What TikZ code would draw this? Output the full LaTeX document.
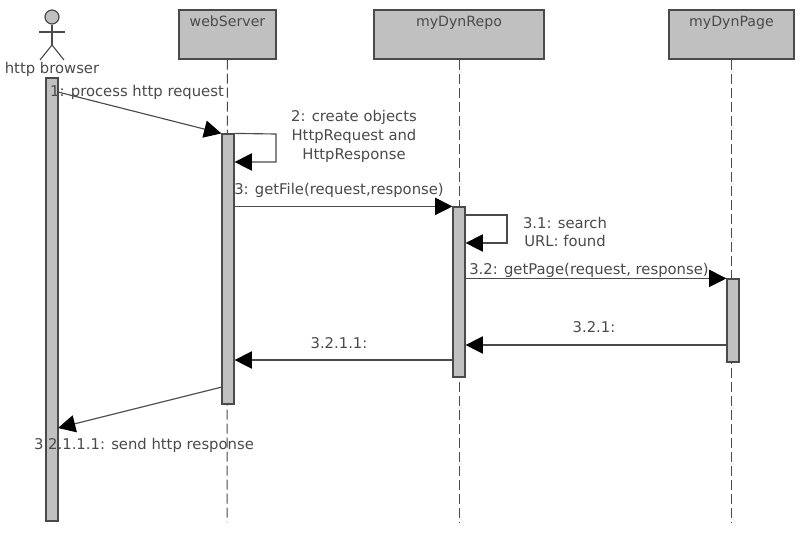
\documentclass[tikz,border=0pt]{standalone}
\usepackage{fontspec}
\setmainfont{DejaVu Sans}
\usetikzlibrary{arrows.meta}
\definecolor{lineGray}{HTML}{4A4A4A}
\definecolor{fillGray}{HTML}{C0C0C0}
\tikzset{
  objBox/.style={draw=lineGray, line width=0.9pt, fill=fillGray, minimum height=36.75pt, inner sep=1pt, text height=9pt, text depth=21pt, font=\fontsize{10.6}{12}\selectfont, text=lineGray},
  actBar/.style={draw=lineGray, line width=0.9pt, fill=fillGray, minimum width=9pt, inner sep=0pt},
  lifeLine/.style={lineGray, line width=0.75pt, dash pattern=on 7.5pt off 3pt},
  msg/.style={lineGray, line width=0.85pt, -{Triangle[length=13pt,width=13pt,color=black]}},
  txt/.style={text=lineGray, font=\fontsize{11.1}{14.2}\selectfont, align=center, inner sep=0pt}
}
\begin{document}
\begin{tikzpicture}[x=0.75pt,y=-0.75pt]
\useasboundingbox (0,0) rectangle (800,540);

% objects
\draw (227.5,34.5) node (web)  [objBox, minimum width=72.75pt]  {webServer};
\draw (459,34.5)   node (repo) [objBox, minimum width=127.5pt]  {myDynRepo};
\draw (731.5,34.5) node (page) [objBox, minimum width=93.75pt]  {myDynPage};

% actor
\draw (52,17) node (head) [circle, draw=lineGray, line width=0.9pt, fill=fillGray, minimum size=10.5pt, inner sep=0pt] {};
\draw (52,45) coordinate (hip);
\draw (39,32) coordinate (armL);
\draw (65,32) coordinate (armR);
\draw (40,60) coordinate (legL);
\draw (64,60) coordinate (legR);
\draw [lineGray, line width=0.85pt] (head) -- (hip);
\draw [lineGray, line width=0.85pt] (armL) -- (armR);
\draw [lineGray, line width=0.85pt] (legL) -- (hip) -- (legR);
\draw (52,69) node (actor) [txt] {http browser};

% lifelines
\draw (227,522) coordinate (webEnd);
\draw (459,522) coordinate (repoEnd);
\draw (731.5,522) coordinate (pageEnd);
\draw [lifeLine] (web) -- (webEnd);
\draw [lifeLine] (repo) -- (repoEnd);
\draw [lifeLine] (page) -- (pageEnd);

% activations
\draw (52,299.5)  node (barBrowser) [actBar, minimum height=332.25pt] {};
\draw (228,269)   node (barWeb)     [actBar, minimum height=202.5pt] {};
\draw (459,292)   node (barRepo)    [actBar, minimum height=127.5pt] {};
\draw (733,320.5) node (barPage)    [actBar, minimum height=62.25pt] {};

% messages
\draw (58,92) coordinate (m1);
\draw [msg] (m1) -- (barWeb.north west);
\draw (137,92) node (t1) [txt] {1: process http request};

\draw (276,134) coordinate (s2a);
\draw (276,162) coordinate (s2b);
\draw [msg] (barWeb.north east) -- (s2a) -- (s2b) -- (barWeb.east |- s2b);
\draw (354,136) node (t2) [txt] {2: create objects\\HttpRequest and\\HttpResponse};

\draw [msg] (barWeb.east |- barRepo.north) -- (barRepo.north west);
\draw (339,190) node (t3) [txt] {3: getFile(request,response)};

\draw (465,215) coordinate (s31o);
\draw (507,215) coordinate (s31a);
\draw (507,243) coordinate (s31b);
\draw [msg] (barRepo.east |- s31o) -- (s31a) -- (s31b) -- (barRepo.east |- s31b);
\draw (565,232) node (t31) [txt] {3.1: search\\URL: found};

\draw [msg] (barRepo.east |- barPage.north) -- (barPage.north west);
\draw (589,270) node (t32) [txt] {3.2: getPage(request, response)};

\draw (727,345) coordinate (m321);
\draw [msg] (m321) -- (barRepo.east |- m321);
\draw (594,327) node (t321) [txt] {3.2.1:};

\draw (453,360) coordinate (m3211);
\draw [msg] (m3211) -- (barWeb.east |- m3211);
\draw (339,343) node (t3211) [txt] {3.2.1.1:};

\draw (222,387) coordinate (m32111a);
\draw (58,428) coordinate (m32111b);
\draw [msg] (m32111a) -- (m32111b);
\draw (144,445) node (t32111) [txt] {3.2.1.1.1: send http response};
\end{tikzpicture}
\end{document}
